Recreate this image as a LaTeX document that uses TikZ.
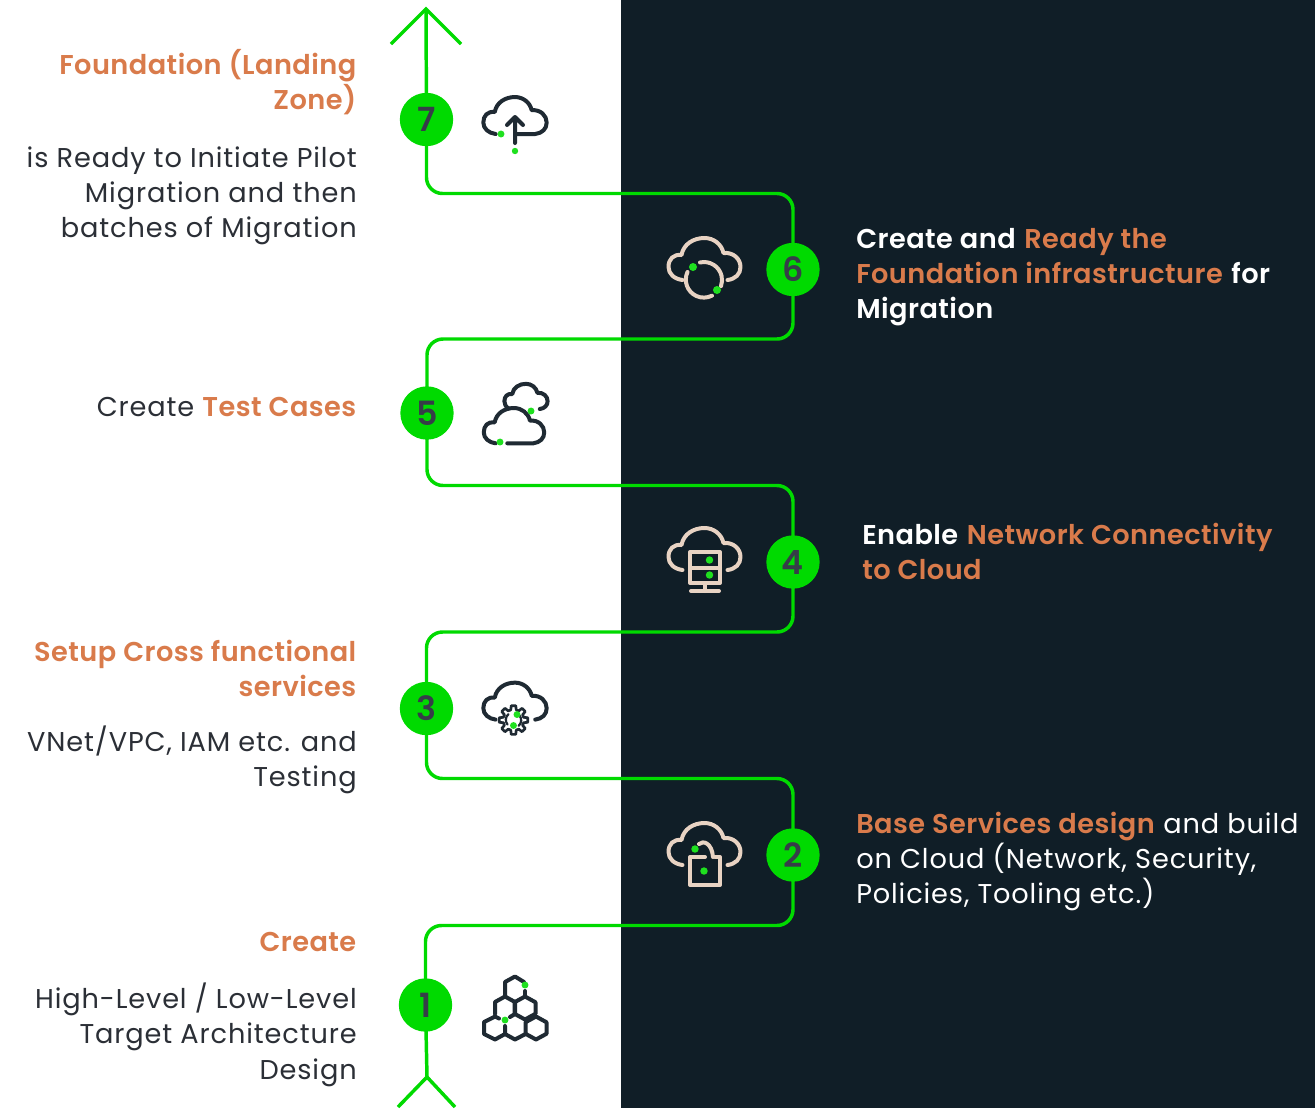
\documentclass[tikz,border=0pt]{standalone}
\usepackage{fontspec}
\setmainfont[LetterSpace=3.2,BoldFont={Poppins SemiBold},BoldFeatures={LetterSpace=1.7}]{Poppins}
\definecolor{navy}{HTML}{101E27}
\definecolor{flow}{HTML}{00DA00}
\definecolor{dotg}{HTML}{1FE01F}
\definecolor{orng}{HTML}{D97B4B}
\definecolor{ink}{HTML}{2B2F36}
\definecolor{dig}{HTML}{363D48}
\definecolor{icd}{HTML}{1F2A33}
\definecolor{icl}{HTML}{E8D3C3}
\newcommand\hl[1]{\textcolor{orng}{\textbf{#1}}}
\newcommand\wb[1]{\textbf{#1}}
\newcommand\cloudshape{(-22,20) .. controls (-30,19) and (-36,14) .. (-36,7) .. controls (-36,-1) and (-31,-6) .. (-23,-5) .. controls (-21,-16) and (-11,-22) .. (0,-22) .. controls (9,-22) and (17,-16) .. (19,-7) .. controls (29,-8) and (36,-1) .. (36,7) .. controls (36,14) and (31,19) .. (23,20)}
\newcommand\hexa[2]{(#1,#2-11.5) -- (#1+10.5,#2-5.75) -- (#1+10.5,#2+5.75) -- (#1,#2+11.5) -- (#1-10.5,#2+5.75) -- (#1-10.5,#2-5.75) -- cycle}
\tikzset{
  x=0.75pt,y=-0.75pt,
  flowline/.style={draw=flow,line width=2.6pt,rounded corners=12pt},
  headline/.style={draw=flow,line width=2.6pt,line join=miter},
  stepnum/.style={circle,fill=flow,minimum size=40pt,inner sep=0pt,text=dig,font=\fontsize{25}{25}\selectfont\bfseries},
  txtL/.style={anchor=north east,align=right,inner sep=0pt,text=ink,font=\fontsize{20.4}{26.3}\selectfont},
  txtR/.style={anchor=north west,align=left,inner sep=0pt,text=white,font=\fontsize{20.4}{26.3}\selectfont},
  icdark/.style={draw=icd,line width=3pt,line cap=round,line join=round},
  iclight/.style={draw=icl,line width=3pt,line cap=round,line join=round},
  dotmark/.style={fill=dotg,draw=none},
}
\begin{document}
\begin{tikzpicture}
\useasboundingbox (0,0) rectangle (1315,1108);
\fill[white] (0,0) rectangle (621,1108);
\fill[navy] (621,0) rectangle (1315,1108);

% steps
\coordinate (r76) at (600,193.5);
\coordinate (r65) at (600,339);
\coordinate (r54) at (600,485.5);
\coordinate (r43) at (600,632);
\coordinate (r32) at (600,778.5);
\coordinate (r21) at (600,925.5);
\coordinate (topTip) at (426,9);
\coordinate (topL) at (391,44);
\coordinate (topR) at (461,44);
\coordinate (botTip) at (427,1077);
\coordinate (botL) at (398,1107);
\coordinate (botR) at (455,1107);
\coordinate (c7) at (426.5,119.5);
\coordinate (c6) at (793,269.5);
\coordinate (c5) at (427,413);
\coordinate (c4) at (793,562);
\coordinate (c3) at (426.5,708.5);
\coordinate (c2) at (793,855);
\coordinate (c1) at (425.5,1005);

\draw[flowline] (c7) -- (c7 |- r76) -- (c6 |- r76) -- (c6);
\draw[flowline] (c6) -- (c6 |- r65) -- (c5 |- r65) -- (c5);
\draw[flowline] (c5) -- (c5 |- r54) -- (c4 |- r54) -- (c4);
\draw[flowline] (c4) -- (c4 |- r43) -- (c3 |- r43) -- (c3);
\draw[flowline] (c3) -- (c3 |- r32) -- (c2 |- r32) -- (c2);
\draw[flowline] (c2) -- (c2 |- r21) -- (c1 |- r21) -- (c1);
\draw[headline] (c7) -- (topTip);
\draw[headline] (topL) -- (topTip) -- (topR);
\draw[headline] (c1) -- (botTip);
\draw[headline] (botL) -- (botTip) -- (botR);

\node[stepnum] (n7) at (c7) {7};
\node[stepnum] (n6) at (c6) {6};
\node[stepnum] (n5) at (c5) {5};
\node[stepnum] (n4) at (c4) {4};
\node[stepnum] (n3) at (c3) {3};
\node[stepnum] (n2) at (c2) {2};
\node[stepnum] (n1) at (c1) {1};

% left texts
\node[txtL] (t7a) at (357,49) {\hl{Foundation (Landing}\\\hl{Zone)}};
\node[txtL] (t7b) at (357,146.5) {is Ready to Initiate Pilot\\Migration and then\\batches of Migration};
\node[txtL] (t5) at (357,397) {Create \hl{Test Cases}};
\node[txtL] (t3a) at (357,640) {\hl{Setup Cross functional}\\\hl{services}};
\node[txtL] (t3b) at (357,726) {VNet/VPC, IAM etc. and\\Testing};
\node[txtL] (t1a) at (357,932) {\hl{Create}};
\node[txtL] (t1b) at (357,983) {High-Level / Low-Level\\Target Architecture\\Design};
% right texts
\node[txtR] (t6) at (856,228) {\wb{Create and} \hl{Ready the}\\\hl{Foundation infrastructure} \wb{for}\\\wb{Migration}};
\node[txtR] (t4) at (862,523) {\wb{Enable} \hl{Network Connectivity}\\\hl{to Cloud}};
\node[txtR] (t2) at (856,812) {\hl{Base Services design} and build\\on Cloud (Network, Security,\\Policies, Tooling etc.)};

% icon 7
\begin{scope}[shift={(515,116.4)},scale=.88]
\draw[icdark] \cloudshape -- (0,20);
\end{scope}
\draw[icdark] (515,143) -- (515,118) (507,125) -- (515,117) -- (523,125);
\fill[dotmark] (501,134) circle[radius=2.6pt];
\fill[dotmark] (515,151) circle[radius=2.4pt];

% icon 6
\begin{scope}[shift={(704.5,260)}]
\draw[iclight] \cloudshape;
\end{scope}
\draw[iclight] (700,262.5) arc[start angle=103,end angle=-20,radius=13.5pt];
\draw[iclight] (687.5,272) arc[start angle=155,end angle=297,radius=13.5pt];
\fill[dotmark] (693,267) circle[radius=3pt];
\fill[dotmark] (717,290) circle[radius=3pt];

% icon 5
\begin{scope}[shift={(526,397)},scale=.6]
\draw[icdark] (-29,19) .. controls (-34,16) and (-36,12) .. (-36,7) .. controls (-36,-1) and (-31,-6) .. (-23,-5) .. controls (-21,-16) and (-11,-22) .. (0,-22) .. controls (9,-22) and (17,-16) .. (19,-7) .. controls (29,-8) and (36,-1) .. (36,7) .. controls (36,14) and (31,19) .. (23,20);
\end{scope}
\begin{scope}[shift={(514,426.5)},scale=.84]
\draw[icdark] \cloudshape -- (-8,20);
\end{scope}
\fill[dotmark] (531,411) circle[radius=2.6pt];
\fill[dotmark] (500,442) circle[radius=2.6pt];

% icon 4
\begin{scope}[shift={(704.5,550)}]
\draw[iclight] \cloudshape;
\end{scope}
\draw[iclight] (690,552) rectangle (720,583) (690,568) -- (720,568) (705,583) -- (705,591) (691,591) -- (719,591);
\fill[dotmark] (709.5,560) circle[radius=2.8pt];
\fill[dotmark] (709.5,575) circle[radius=2.8pt];

% icon 3
\begin{scope}[shift={(515,702)},scale=.88]
\draw[icdark] \cloudshape;
\end{scope}
\fill[white] (513.5,720) circle[radius=12pt];
\foreach \a in {0,45,...,315}
  \draw[icdark,line width=2pt] ({513.5+10.5*cos(\a-15)},{720+10.5*sin(\a-15)}) -- ({513.5+14.5*cos(\a-9)},{720+14.5*sin(\a-9)}) -- ({513.5+14.5*cos(\a+9)},{720+14.5*sin(\a+9)}) -- ({513.5+10.5*cos(\a+15)},{720+10.5*sin(\a+15)}) -- ({513.5+10.5*cos(\a+30)},{720+10.5*sin(\a+30)});
\draw[icdark,line width=1.7pt] (519.5,715.5) arc[start angle=40,end angle=-50,radius=5.5pt];
\draw[icdark,line width=1.7pt] (507.5,724.5) arc[start angle=220,end angle=130,radius=5.5pt];
\fill[dotmark] (517,714.5) circle[radius=2.6pt];
\fill[dotmark] (513.5,725.5) circle[radius=2.6pt];

% icon 2
\begin{scope}[shift={(704.5,845)}]
\draw[iclight] \cloudshape;
\end{scope}
\draw[iclight] (705,857) -- (690,857) -- (690,885) -- (720,885) -- (720,857) -- (715,857);
\draw[iclight] (699,844) .. controls (703,840) and (712,843) .. (713,857);
\fill[dotmark] (695,849) circle[radius=2.8pt];
\fill[dotmark] (704,871) circle[radius=2.8pt];

% icon 1
\draw[icdark] (524,982) -- (515,976.5) -- (505,982) -- (505,996.5);
\draw[icdark] (495,1014) -- (495,1002) -- (505,996.5) -- (515,1002) -- (515,1014);
\draw[icdark] (510,1017) -- (515,1014);
\draw[icdark] (525,996.5) -- (525,991);
\draw[icdark] \hexa{525}{1008};
\draw[icdark] \hexa{536}{1028};
\draw[icdark] (499,1018.5) -- (495,1016.5) -- (484,1022) -- (484,1034) -- (495,1039.5) -- (505,1034) -- (505,1026);
\draw[icdark] (505,1034) -- (515,1039.5) -- (525.5,1034);
\fill[dotmark] (525,985) circle[radius=2.6pt];
\fill[dotmark] (505,1020) circle[radius=2.6pt];
\end{tikzpicture}
\end{document}
